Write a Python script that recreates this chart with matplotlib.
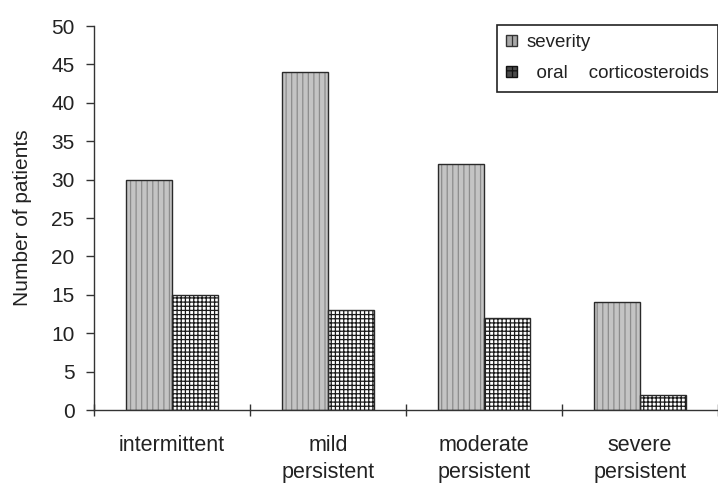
import matplotlib
matplotlib.use("Agg")
import matplotlib.pyplot as plt
from matplotlib.patches import Patch
import numpy as np

categories = ["intermittent", "mild\npersistent", "moderate\npersistent", "severe\npersistent"]
severity = [30, 44, 32, 14]
oral_cs = [15, 13, 12, 2]
yticks = list(range(0, 55, 5))
series_labels = ["severity", "  oral    corticosteroids"]

plt.rcParams['font.family'] = ['Liberation Sans', 'DejaVu Sans']
plt.rcParams['hatch.linewidth'] = 0.9

W, H = 718, 488
fig = plt.figure(figsize=(W / 100, H / 100), dpi=100)
ax = fig.add_axes([94 / W, 1 - 410 / H, 1 - 94 / W, 384 / H])

x = np.arange(len(categories))
w = 0.295
sev_face, sev_hatch = "#c4c4c4", "#8c8c8c"
# hatched fills
ax.bar(x - w / 2, severity, w, color=sev_face, edgecolor=sev_hatch, hatch="|||", linewidth=0)
ax.bar(x + w / 2, oral_cs, w, color="white", edgecolor="#1a1a1a", hatch="++++", linewidth=0)
# outlines
ax.bar(x - w / 2, severity, w, fill=False, edgecolor="#2a2a2a", linewidth=1.0)
ax.bar(x + w / 2, oral_cs, w, fill=False, edgecolor="#2a2a2a", linewidth=1.0)

ax.set_xlim(-0.5, len(categories) - 0.5)
ax.set_ylim(0, 50)
ax.set_yticks(yticks)
ax.tick_params(axis='y', labelsize=15, direction='out', length=6, width=1, color="#333333",
               labelcolor="#222222", pad=8)
ax.set_xticks(x)
ax.set_xticklabels(categories, fontsize=15.5, color="#222222", linespacing=1.4)
ax.tick_params(axis='x', length=0, pad=18)
ax.set_xticks(np.arange(len(categories) + 1) - 0.5, minor=True)
ax.tick_params(axis='x', which='minor', length=9, direction='inout', width=1, color="#333333")
for s in ['top', 'right']:
    ax.spines[s].set_visible(False)
for s in ['left', 'bottom']:
    ax.spines[s].set_color("#333333")
    ax.spines[s].set_linewidth(1.0)
ax.set_ylabel("Number of patients", fontsize=15, color="#222222")
ax.yaxis.set_label_coords(-0.1, 0.5)

handles = [Patch(facecolor="#a8a8a8", edgecolor="#333333", hatch="||"),
           Patch(facecolor="#4a4a4a", edgecolor="#111111", hatch="++")]
leg = fig.legend(handles, series_labels, loc="upper left",
                 bbox_to_anchor=(497 / W, 1 - 25 / H), bbox_transform=fig.transFigure,
                 borderaxespad=0, fontsize=13.5, frameon=True, fancybox=False,
                 edgecolor="#222222", framealpha=1, handlelength=0.55, handleheight=0.55,
                 handletextpad=0.5, borderpad=0.5, labelspacing=0.75)
leg.get_frame().set_linewidth(1.2)
for t in leg.get_texts():
    t.set_color("#222222")

fig.savefig("out.png", dpi=100)
